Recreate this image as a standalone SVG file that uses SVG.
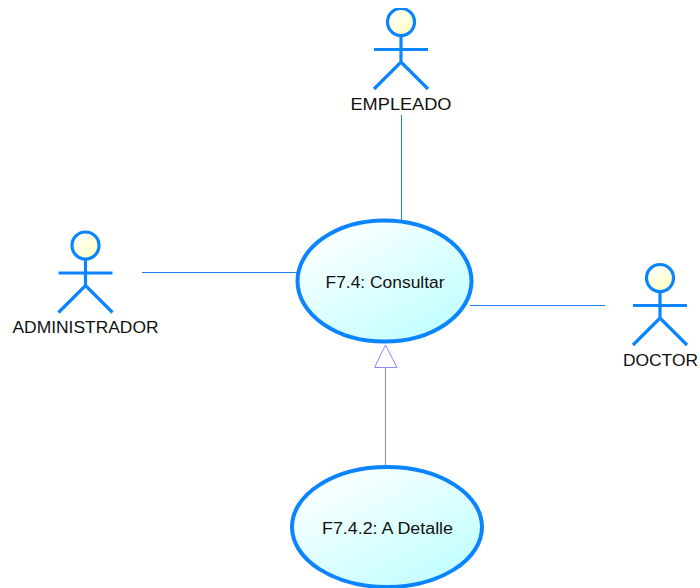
<svg xmlns="http://www.w3.org/2000/svg" width="700" height="588" viewBox="0 0 700 588">
<style>
text{font-family:"Liberation Sans",Arial,sans-serif;font-size:16px;fill:#111;text-anchor:middle}
.uc{fill:url(#ucFill);stroke:#0a84ff;stroke-width:4}
.head{fill:url(#headFill);stroke:#0a84ff;stroke-width:3.2}
.limb{fill:none;stroke:#0a84ff;stroke-width:3.2}
.assoc{fill:none;stroke:#1a80f0;stroke-width:1}
.gen{fill:none;stroke:#8a8aff;stroke-width:1}
</style>
<defs>
<linearGradient id="ucFill" x1="0.1" y1="0.05" x2="0.85" y2="0.95"><stop offset="0" stop-color="#ffffff"/><stop offset="1" stop-color="#c0ffff"/></linearGradient>
<linearGradient id="headFill" x1="0.1" y1="0.05" x2="0.85" y2="0.95"><stop offset="0" stop-color="#ffffff"/><stop offset="1" stop-color="#ffffc0"/></linearGradient>
<clipPath id="pageTop"><rect x="0" y="8" width="700" height="580"/></clipPath>
<g id="actorShape">
<circle class="head" cx="0" cy="0" r="13.5"/>
<path class="limb" d="M0 14V40M-27 27.500H27M-27 67L0 40L27 67"/>
</g>
</defs>
<g id="connectors">
<path class="assoc" d="M401.500 115V220"/>
<path class="assoc" d="M142 272.500H297"/>
<path class="assoc" d="M470 305.500H605"/>
<path class="gen" d="M385.500 367.500V466"/>
<path class="gen" d="M385.500 345L374.500 367.500H397Z"/>
</g>
<g id="empleado"><g clip-path="url(#pageTop)"><use href="#actorShape" x="401" y="22"/></g><text x="401" y="110" textLength="101" lengthAdjust="spacingAndGlyphs">EMPLEADO</text></g>
<g id="administrador"><use href="#actorShape" x="85.500" y="245.500"/><text x="85.500" y="332.500" textLength="146" lengthAdjust="spacingAndGlyphs">ADMINISTRADOR</text></g>
<g id="doctor"><use href="#actorShape" x="660" y="278"/><text x="660.500" y="365.500" textLength="75" lengthAdjust="spacingAndGlyphs">DOCTOR</text></g>
<g id="consultar"><ellipse class="uc" cx="384.500" cy="281" rx="87" ry="60.500"/><text x="385" y="287.500" textLength="119" lengthAdjust="spacingAndGlyphs">F7.4: Consultar</text></g>
<g id="detalle"><ellipse class="uc" cx="387" cy="527" rx="95" ry="60"/><text x="387.500" y="533.500" textLength="131" lengthAdjust="spacingAndGlyphs">F7.4.2: A Detalle</text></g>
</svg>
